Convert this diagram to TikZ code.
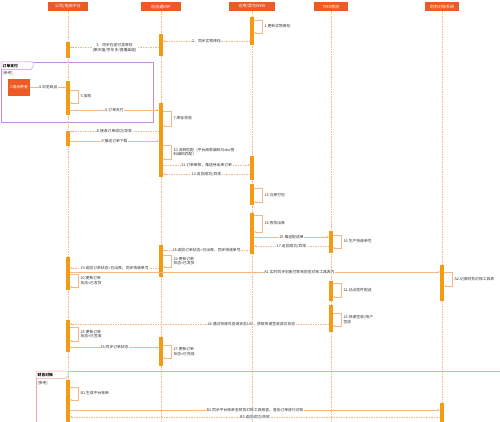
\documentclass[tikz,border=0pt]{standalone}
\usepackage{fontspec}
\setmainfont{Noto Sans CJK SC}
\usetikzlibrary{arrows.meta}
\definecolor{hdrc}{HTML}{EE5A24}
\definecolor{barc}{HTML}{F39C12}
\definecolor{lifec}{HTML}{F5B48A}
\definecolor{msgc}{HTML}{F5B783}
\definecolor{frmA}{HTML}{C98BE0}
\definecolor{frmB}{HTML}{F2A7A7}
\tikzset{
  hdrbox/.style={fill=hdrc, text=white, minimum width=40, minimum height=9, inner sep=0pt, font=\fontsize{4}{4}\selectfont},
  actbar/.style={fill=barc, draw=none, minimum width=3.5, inner sep=0pt},
  lifeline/.style={draw=lifec, line width=0.35pt, dash pattern=on 1.5pt off 1pt},
  call/.style={draw=msgc, line width=0.35pt, -{Stealth[length=2.5pt,width=2pt]}},
  reply/.style={call, dash pattern=on 1.5pt off 1pt},
  lbl/.style={fill=white, inner sep=0.4pt, font=\fontsize{3.8}{4.6}\selectfont, align=center, text=black!80},
  slbl/.style={lbl, anchor=west, align=left, xshift=2pt, fill=none},
  frmtitle/.style={anchor=west, inner sep=0.5pt, font=\fontsize{3.8}{4}\selectfont\bfseries}
}
% self message on an activation bar: name, bar, y1, y2, text
\newcommand{\selfmsg}[5]{%
  \draw[call] (#2.east |- 0,#3) -- ++(8,0) -- ++(0,{#4-#3}) node[slbl, midway] (#1) {#5} -- (#2.east |- 0,#4);
}

\begin{document}
\begin{tikzpicture}[x=1pt,y=-1pt]
\useasboundingbox[fill=white] (0,0) rectangle (500,422);

% frames
\draw[frmA, line width=0.5pt] (1,62) rectangle (153,122);
\draw[frmA, line width=0.5pt, fill=white] (1,62) -- (33,62) -- (33,67) -- (31,69.5) -- (1,69.5) -- cycle;
\node[frmtitle] (fA) at (2,65.7) {订单支付};
\node[lbl, anchor=west] (gA) at (2,73) {[参考]};
\draw[frmB, line width=0.5pt] (36,371) rectangle (510,440);
\draw[frmB, line width=0.5pt, fill=white] (36,371) -- (68,371) -- (68,376) -- (66,378.5) -- (36,378.5) -- cycle;
\node[frmtitle] (fB) at (37,374.7) {财务对账};
\node[lbl, anchor=west] (gB) at (37,383) {[参考]};

% participants
\node[hdrbox] (hP) at (68,6.5) {公司/电商平台};
\node[hdrbox] (hE) at (161,6.5) {旺店通ERP};
\node[hdrbox, minimum width=46] (hW) at (252,6.5) {仓库/菜鸟WMS};
\node[hdrbox, minimum width=34] (hT) at (331,6.5) {TMS物流};
\node[hdrbox, minimum width=34] (hF) at (442,6.5) {财务对账系统};
\foreach \h in {hP,hE,hW,hT,hF}
  \draw[lifeline] (\h.south) -- (\h.south |- 0,422);

% activation bars
\node[actbar, minimum height=16] (P1) at (68,50) {};
\node[actbar, minimum height=34] (P2) at (68,98) {};
\node[actbar, minimum height=15] (P3) at (68,138.5) {};
\node[actbar, minimum height=33] (P4) at (68,273.5) {};
\node[actbar, minimum height=32] (P5) at (68,336) {};
\node[actbar, minimum height=45] (P6) at (68,402.5) {};
\node[actbar, minimum height=22] (E1) at (161,45) {};
\node[actbar, minimum height=74] (E2) at (161,140) {};
\node[actbar, minimum height=32] (E3) at (161,261) {};
\node[actbar, minimum height=29] (E4) at (161,351.5) {};
\node[actbar, minimum height=28] (W1) at (252,31) {};
\node[actbar, minimum height=24] (W2) at (252,168) {};
\node[actbar, minimum height=21] (W3) at (252,194.5) {};
\node[actbar, minimum height=41] (W4) at (252,233.5) {};
\node[actbar, minimum height=22] (T1) at (331,242) {};
\node[actbar, minimum height=20] (T2) at (331,291) {};
\node[actbar, minimum height=27] (T3) at (331,318.5) {};
\node[actbar, minimum height=36] (F1) at (442,283) {};
\node[actbar, minimum height=22] (F2) at (442,414) {};

\node[fill=hdrc, text=white, minimum width=22, minimum height=17, inner sep=0pt, font=\fontsize{3.8}{4}\selectfont] (user) at (19,87.5) {C端消费者};

% messages
\selfmsg{m1}{W1}{20}{33}{1.更新实物库存}
\draw[reply] (W1.west |- 0,41) -- (E1.east |- 0,41) node[lbl, midway] (m2) {2、同步实物库存};
\draw[reply] (E1.west |- 0,47.5) -- (P1.east |- 0,47.5) node[lbl, midway] (m3) {3、同步在途可卖库存\\(聚天猫/京东多/直播渠道)};
\draw[call] (user.east) -- (P2.west |- user.east) node[lbl, midway] (m4) {4.浏览商品};
\selfmsg{m5}{P2}{90}{103}{5.加购}
\draw[call] (P2.east |- 0,110) -- (E2.west |- 0,110) node[lbl, midway] (m6) {6.订单支付};
\selfmsg{m7}{E2}{111}{126}{7.库存校验}
\draw[reply] (E2.west |- 0,131.5) -- (P3.east |- 0,131.5) node[lbl, midway] (m8) {8.接收订单成功/异常};
\draw[call] (P3.east |- 0,141) -- (E2.west |- 0,141) node[lbl, midway] (m9) {9.推送订单下载};
\selfmsg{m10}{E2}{145}{159}{10.流转匹配（平台商家编码与sku物\\料编码匹配）}
\draw[reply] (E2.east |- 0,165) -- (W2.west |- 0,165) node[lbl, midway] (m11) {11.订单审核，推送待出库订单};
\draw[reply] (W2.west |- 0,174) -- (E2.east |- 0,174) node[lbl, midway] (m12) {12.返回成功/异常};
\selfmsg{m13}{W3}{188}{202}{13.仓库打包}
\selfmsg{m14}{W4}{215}{232}{14.拣货出库}
\draw[call] (W4.east |- 0,237) -- (T1.west |- 0,237) node[lbl, midway] (m15) {15.推送配送单};
\selfmsg{m16}{T1}{235}{248}{16.生产快递单号}
\draw[reply] (T1.west |- 0,246) -- (W4.east |- 0,246) node[lbl, midway] (m17) {17.返回成功/异常};
\draw[reply] (W4.west |- 0,250.5) -- (E3.east |- 0,250.5) node[lbl, midway] (m18) {18.返回订单状态=已出库，同步快递单号};
\selfmsg{m19}{E3}{255}{267}{19.更新订单\\状态=已发货}
\draw[reply] (E3.west |- 0,268) -- (P4.east |- 0,268) node[lbl, midway] (m19b) {19.返回订单状态=已出库，同步快递单号};
\draw[call] (P4.east |- 0,272) -- (F1.west |- 0,272) node[lbl, pos=0.62] (mA1) {A1.实时同步划账付款到财务对账工具表内};
\selfmsg{mA2}{F1}{272}{286}{A2.记录财务对账工具表}
\selfmsg{m20}{P4}{274}{287}{20.更新订单\\状态=已发货}
\selfmsg{m22}{T2}{283}{297}{22.站点揽件配送}
\selfmsg{m23}{T3}{313}{326}{23.快递签收/用户\\签收}
\draw[reply] (T3.west |- 0,324) -- (P5.east |- 0,324) node[lbl, pos=0.3] (m24) {24.通过快递鸟查询状态100，获取快递签收成功状态};
\selfmsg{m25}{P5}{327}{341}{25.更新订单\\状态=已签收}
\draw[call] (P5.east |- 0,347.5) -- (E4.west |- 0,347.5) node[lbl, midway] (m26) {26.同步订单状态};
\selfmsg{m27}{E4}{345}{358}{27.更新订单\\状态=已完成}
\selfmsg{mB1}{P6}{387}{400}{B1.生成平台账单}
\draw[call] (P6.east |- 0,410) -- (F2.west |- 0,410) node[lbl, midway] (mB2) {B2.同步平台账单至财务对账工具核查，查后订单进行对账};
\draw[reply] (F2.west |- 0,417) -- (P6.east |- 0,417) node[lbl, midway] (mB3) {B3.返回成功/失败};
\end{tikzpicture}
\end{document}
